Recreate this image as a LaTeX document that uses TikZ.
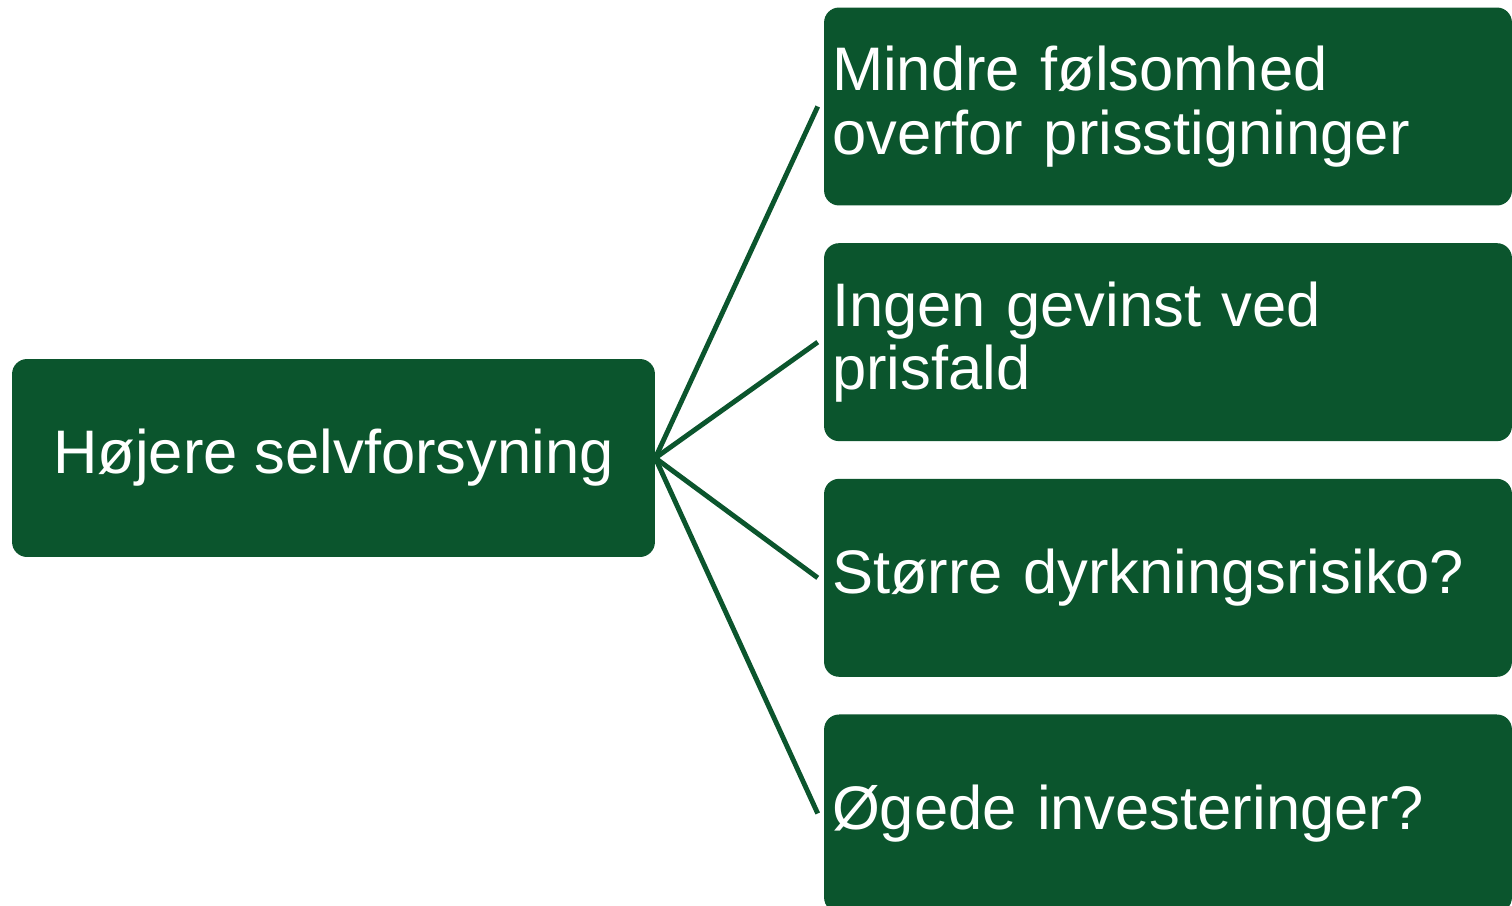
\documentclass[tikz,border=0pt]{standalone}
\usepackage{fontspec}
\setmainfont{Liberation Sans}
\usetikzlibrary{positioning}
\definecolor{leafgreen}{RGB}{11,85,45}

\begin{document}
\begin{tikzpicture}[x=0.02cm, y=-0.02cm,
    box/.style={fill=leafgreen, text=white, rounded corners=0.3cm, inner sep=0pt,
                minimum height=3.96cm, font=\fontsize{35pt}{36pt}\selectfont},
    hubbox/.style={box, minimum width=12.86cm, align=center},
    effectbox/.style={box, text width=13.44cm, inner xsep=0.16cm, align=left},
    link/.style={draw=leafgreen, line width=2.8pt}]

	\useasboundingbox (0,0) rectangle (1512,906);

	% node definitions
	\node[hubbox]                      (hub) at (333.5,458)  {Højere selvforsyning};
	\node[effectbox]                   (sens) at (1168,106.5) {Mindre følsomhed\\overfor prisstigninger};
	\node[effectbox, below=0.74cm of sens] (gain) {Ingen gevinst ved\\prisfald};
	\node[effectbox, below=0.74cm of gain] (risk) {Større dyrkningsrisiko?};
	\node[effectbox, below=0.74cm of risk] (inv)  {Øgede investeringer?};

	% connectors
	\draw[link] (hub.east) -- ([xshift=-0.12cm]sens.west);
	\draw[link] (hub.east) -- ([xshift=-0.12cm]gain.west);
	\draw[link] (hub.east) -- ([xshift=-0.12cm]risk.west);
	\draw[link] (hub.east) -- ([xshift=-0.12cm]inv.west);

\end{tikzpicture}
\end{document}
